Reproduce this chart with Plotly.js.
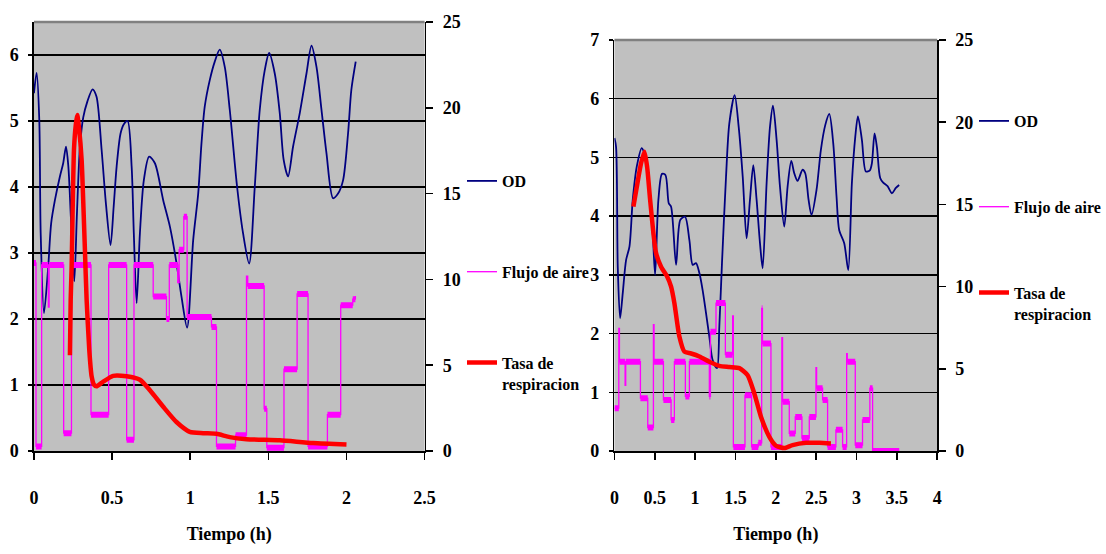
<!DOCTYPE html>
<html>
<head>
<meta charset="utf-8">
<script src="https://cdn.plot.ly/plotly-3.0.1.min.js"></script>
<style>
html,body{margin:0;padding:0;background:#fff;}
#chart{width:1106px;height:554px;}
</style>
</head>
<body>
<div id="chart"></div>
<script>
// ---------- Left chart data ----------
const leftOD_t = [0, 0.017, 0.034, 0.043, 0.064, 0.09, 0.11, 0.134, 0.166, 0.187, 0.205, 0.22, 0.236, 0.258, 0.275, 0.294, 0.315, 0.341, 0.375, 0.4, 0.433, 0.46, 0.49, 0.51, 0.529, 0.554, 0.575, 0.599, 0.625, 0.639, 0.657, 0.678, 0.703, 0.737, 0.774, 0.827, 0.87, 0.912, 0.944, 0.98, 1.019, 1.051, 1.072, 1.093, 1.125, 1.157, 1.189, 1.221, 1.253, 1.3, 1.338, 1.377, 1.413, 1.445, 1.477, 1.505, 1.541, 1.573, 1.598, 1.626, 1.658, 1.701, 1.744, 1.776, 1.808, 1.84, 1.872, 1.914, 1.946, 1.978, 2.01, 2.031, 2.059];
const leftOD = [5.42, 5.73, 5.02, 3.3, 2.09, 2.75, 3.45, 3.8, 4.16, 4.36, 4.61, 4.31, 3.55, 2.57, 3.6, 4.6, 5.05, 5.29, 5.48, 5.37, 4.56, 3.76, 3.12, 3.7, 4.31, 4.81, 4.95, 5.0, 4.31, 3.3, 2.24, 3.3, 4.1, 4.46, 4.36, 3.8, 3.4, 2.85, 2.34, 1.87, 3.2, 3.9, 4.66, 5.22, 5.62, 5.9, 6.08, 5.82, 5.17, 4.0, 3.3, 2.84, 4.0, 5.17, 5.77, 6.03, 5.72, 5.12, 4.41, 4.16, 4.61, 5.12, 5.72, 6.14, 5.82, 5.17, 4.51, 3.83, 3.9, 4.1, 4.81, 5.47, 5.9];

const leftFlujo_t = [0, 0.013, 0.049, 0.092, 0.097, 0.19, 0.24, 0.365, 0.478, 0.593, 0.64, 0.763, 0.848, 0.866, 0.92, 0.929, 0.959, 0.98, 1.136, 1.168, 1.29, 1.36, 1.368, 1.473, 1.49, 1.6, 1.684, 1.754, 1.878, 1.963, 2.04, 2.057];
const leftFlujo = [2.85, 0.07, 2.82, 2.18, 2.82, 0.27, 2.82, 0.55, 2.82, 0.17, 2.82, 2.34, 2.0, 2.82, 2.55, 3.05, 3.55, 2.03, 1.88, 0.07, 0.24, 2.65, 2.5, 0.64, 0.05, 1.24, 2.38, 0.07, 0.55, 2.21, 2.3, 2.35];

const leftTasa_t = [0.23, 0.235, 0.241, 0.256, 0.268, 0.277, 0.288, 0.305, 0.315, 0.326, 0.337, 0.354, 0.369, 0.385, 0.4, 0.443, 0.507, 0.593, 0.678, 0.742, 0.827, 0.912, 0.997, 1.083, 1.168, 1.253, 1.36, 1.573, 1.786, 2.0];
const leftTasa = [5.58, 8.81, 10.73, 17.54, 19.04, 19.58, 18.85, 16.96, 14.62, 11.73, 8.81, 5.88, 4.35, 3.85, 3.77, 4.04, 4.38, 4.35, 4.15, 3.54, 2.58, 1.69, 1.12, 1.04, 1.0, 0.81, 0.69, 0.62, 0.46, 0.38];

// ---------- Right chart data ----------
const rightOD_t = [0, 0.02, 0.041, 0.07, 0.103, 0.144, 0.186, 0.227, 0.276, 0.338, 0.392, 0.442, 0.475, 0.504, 0.545, 0.59, 0.632, 0.673, 0.702, 0.764, 0.817, 0.875, 0.929, 0.97, 1.011, 1.053, 1.093, 1.176, 1.217, 1.272, 1.3, 1.333, 1.383, 1.424, 1.49, 1.54, 1.59, 1.638, 1.68, 1.721, 1.762, 1.804, 1.837, 1.886, 1.928, 1.965, 2.01, 2.052, 2.105, 2.146, 2.192, 2.229, 2.27, 2.332, 2.365, 2.406, 2.443, 2.505, 2.559, 2.613, 2.663, 2.712, 2.753, 2.786, 2.848, 2.898, 2.943, 2.985, 3.018, 3.067, 3.117, 3.166, 3.191, 3.224, 3.253, 3.294, 3.331, 3.385, 3.439, 3.488, 3.529];
const rightOD = [5.33, 5.18, 3.14, 2.26, 2.69, 3.25, 3.48, 4.28, 4.84, 5.16, 4.96, 4.28, 3.71, 3.0, 4.28, 4.72, 4.7, 4.22, 4.16, 3.17, 3.94, 3.99, 3.59, 3.17, 3.2, 3.03, 2.74, 1.95, 1.55, 1.41, 2.12, 3.2, 4.67, 5.58, 6.06, 5.52, 4.67, 3.62, 4.28, 4.87, 4.28, 3.54, 3.11, 4.56, 5.52, 5.88, 5.3, 4.5, 3.82, 4.5, 4.94, 4.73, 4.6, 4.79, 4.73, 4.28, 4.02, 4.45, 5.13, 5.55, 5.74, 5.24, 4.33, 3.76, 3.54, 3.08, 4.56, 5.35, 5.7, 5.3, 4.76, 4.78, 4.9, 5.41, 5.18, 4.65, 4.57, 4.51, 4.39, 4.48, 4.53];

const rightFlujo_t = [0, 0.054, 0.062, 0.132, 0.14, 0.322, 0.413, 0.483, 0.491, 0.607, 0.702, 0.743, 0.879, 0.929, 1.176, 1.19, 1.259, 1.375, 1.465, 1.474, 1.618, 1.7, 1.783, 1.825, 1.835, 1.94, 2.075, 2.084, 2.167, 2.241, 2.324, 2.415, 2.498, 2.506, 2.58, 2.642, 2.745, 2.828, 2.878, 2.886, 2.985, 3.075, 3.166, 3.2, 3.53];
const rightFlujo = [0.73, 2.09, 1.52, 1.12, 1.52, 0.9, 0.4, 2.15, 1.52, 0.87, 0.53, 1.52, 0.93, 1.52, 0.93, 2.03, 2.52, 1.64, 2.3, 0.07, 0.95, 0.07, 0.14, 2.43, 1.83, 0.07, 1.93, 0.84, 0.3, 0.58, 0.22, 0.58, 1.42, 1.07, 0.87, 0.07, 0.36, 0.07, 1.66, 1.52, 0.1, 0.53, 1.07, 0.0, 0.0];

const rightTasa_t = [0.235, 0.277, 0.33, 0.372, 0.405, 0.442, 0.483, 0.516, 0.578, 0.65, 0.702, 0.743, 0.805, 0.867, 0.95, 1.053, 1.176, 1.3, 1.424, 1.548, 1.651, 1.734, 1.817, 1.92, 2.002, 2.105, 2.208, 2.373, 2.539, 2.683];
const rightTasa = [14.86, 16.07, 17.5, 18.21, 17.29, 15.29, 13.25, 12.04, 11.21, 10.64, 10.0, 9.0, 6.96, 6.04, 5.93, 5.75, 5.43, 5.18, 5.11, 5.04, 4.61, 3.5, 2.07, 0.86, 0.32, 0.18, 0.36, 0.5, 0.5, 0.46];

// ---------- Ticks & labels ----------
const xTicksLeft = [0, 0.5, 1, 1.5, 2, 2.5];
const xTicksRight = [0, 0.5, 1, 1.5, 2, 2.5, 3, 3.5, 4];
const yTicksLeft = [0, 1, 2, 3, 4, 5, 6];
const yTicksRight = [0, 1, 2, 3, 4, 5, 6, 7];
const y2Ticks = [0, 5, 10, 15, 20, 25];
const seriesNames = ['OD', 'Flujo de aire', 'Tasa de<br>respiracion'];
const xTitle = 'Tiempo (h)';

// ---------- Styles ----------
const NAVY = '#000080', MAG = '#FF00FF', RED = '#FF0000';
const FONT = 'Liberation Serif, Times New Roman, serif';
const tickFont = {family: FONT, size: 18, color: '#000', weight: 'bold'};

function plateaus(t, v) {
  const xs = [], ys = [];
  for (let i = 0; i < t.length - 1; i++) {
    if (t[i + 1] - t[i] < 0.01) continue;
    xs.push(t[i], t[i + 1], null);
    ys.push(v[i], v[i], null);
  }
  return {xs, ys};
}

function chartTraces(odT, od, flT, fl, taT, ta, xa, ya, ya2, leg, gp) {
  const p = plateaus(flT, fl);
  return [
    {x: odT, y: od, xaxis: xa, yaxis: ya, mode: 'lines', name: seriesNames[0],
     line: {color: NAVY, width: 1.8, shape: 'spline', smoothing: 0.8},
     legend: leg, legendgroup: gp + 'a', hoverinfo: 'skip'},
    {x: flT, y: fl, xaxis: xa, yaxis: ya, mode: 'lines', name: seriesNames[1],
     line: {color: MAG, width: 1.3, shape: 'hv'},
     legend: leg, legendgroup: gp + 'b', hoverinfo: 'skip'},
    {x: p.xs, y: p.ys, xaxis: xa, yaxis: ya, mode: 'lines', showlegend: false,
     line: {color: MAG, width: 6}, legend: leg, legendgroup: gp + 'b', hoverinfo: 'skip', connectgaps: false},
    {x: taT, y: ta, xaxis: xa, yaxis: ya2, mode: 'lines', name: seriesNames[2],
     line: {color: RED, width: 4.5, shape: 'spline', smoothing: 0.6},
     legend: leg, legendgroup: gp + 'c', hoverinfo: 'skip'}
  ];
}

const data = [].concat(
  chartTraces(leftOD_t, leftOD, leftFlujo_t, leftFlujo, leftTasa_t, leftTasa, 'x', 'y', 'y2', 'legend', 'L'),
  chartTraces(rightOD_t, rightOD, rightFlujo_t, rightFlujo, rightTasa_t, rightTasa, 'x2', 'y3', 'y4', 'legend2', 'R')
);

const W = 1106, PH = 451;
function xAxis(dom, rng, ticks, anchor) {
  return {domain: dom, anchor: anchor, range: rng, tickvals: ticks, ticks: 'outside', ticklen: 7,
    tickwidth: 1.5, tickcolor: '#000', showline: true, linecolor: '#000', linewidth: 1.5,
    showgrid: false, zeroline: false, tickfont: tickFont, ticklabelstandoff: 23, automargin: false,
    title: {text: xTitle, font: {family: FONT, size: 18, color: '#000', weight: 'bold'}, standoff: 20}};
}
function yAxis(dom, rng, ticks, anchor) {
  return {domain: dom, anchor: anchor, range: rng, tickvals: ticks, ticks: 'outside', ticklen: 4,
    tickwidth: 1.5, tickcolor: '#000', showline: true, linecolor: '#000', linewidth: 1.5,
    showgrid: true, gridcolor: '#000', gridwidth: 1.5, zeroline: false, tickfont: tickFont,
    ticklabelstandoff: 6, automargin: false};
}
function y2Axis(over, anchor) {
  return {overlaying: over, anchor: anchor, side: 'right', range: [0, 25], tickvals: y2Ticks,
    ticks: 'outside', ticklen: 7, tickwidth: 1.5, tickcolor: '#000', showline: true, linecolor: '#000',
    linewidth: 1.5, showgrid: false, zeroline: false, tickfont: tickFont, ticklabelstandoff: 6, automargin: false};
}

const legendFont = {family: FONT, size: 16, color: '#000', weight: 'bold'};
const layout = {
  width: W, height: 554,
  margin: {l: 0, r: 0, t: 0, b: 103, pad: 0},
  paper_bgcolor: '#FFFFFF', plot_bgcolor: '#C0C0C0',
  showlegend: true,
  xaxis: xAxis([34 / W, 425 / W], [0, 2.5], xTicksLeft, 'y'),
  yaxis: yAxis([0, 429 / PH], [0, 6.5], yTicksLeft, 'x'),
  yaxis2: y2Axis('y', 'x'),
  xaxis2: xAxis([615 / W, 938 / W], [0, 4], xTicksRight, 'y3'),
  yaxis3: yAxis([0, 411 / PH], [0, 7], yTicksRight, 'x2'),
  yaxis4: y2Axis('y3', 'x2'),
  legend: {x: 462 / W, y: (PH - 164) / PH, xanchor: 'left', yanchor: 'top', bgcolor: 'rgba(0,0,0,0)',
    font: legendFont, traceorder: 'grouped', tracegroupgap: 67, valign: 'top', itemwidth: 30},
  legend2: {x: 975 / W, y: (PH - 104) / PH, xanchor: 'left', yanchor: 'top', bgcolor: 'rgba(0,0,0,0)',
    font: legendFont, traceorder: 'grouped', tracegroupgap: 62, valign: 'top', itemwidth: 30},
  shapes: [
    {type: 'line', xref: 'x domain', yref: 'y domain', x0: 0, x1: 1, y0: 1, y1: 1, line: {color: '#808080', width: 2.5}},
    {type: 'line', xref: 'x2 domain', yref: 'y3 domain', x0: 0, x1: 1, y0: 1, y1: 1, line: {color: '#808080', width: 2.5}}
  ]
};

Plotly.newPlot('chart', data, layout, {staticPlot: true, displayModeBar: false});
</script>
</body>
</html>
